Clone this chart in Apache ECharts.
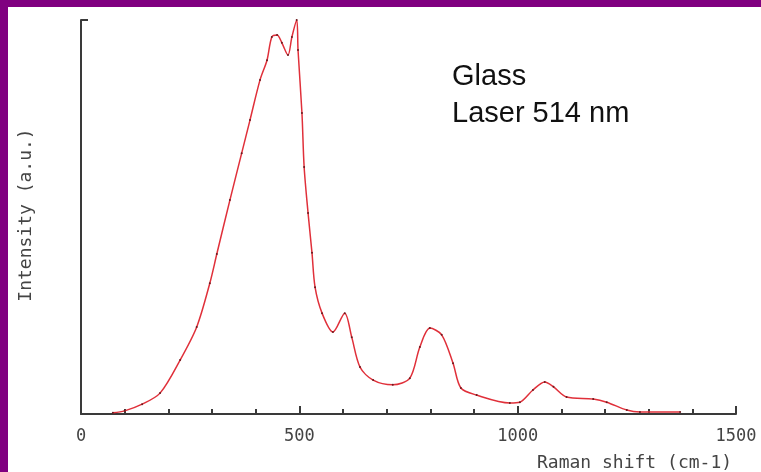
<!DOCTYPE html>
<html>
<head>
<meta charset="utf-8">
<script src="https://cdn.jsdelivr.net/npm/echarts@6/dist/echarts.min.js"></script>
<style>
  html, body { margin: 0; padding: 0; width: 761px; height: 472px; background: #800080; overflow: hidden; }
  #chart { position: absolute; left: 8px; top: 7px; width: 753px; height: 465px; background: #ffffff; }
</style>
</head>
<body>
<div id="chart"></div>
<script>
// Raman shift (cm-1) and normalised intensity (a.u.) of the glass spectrum
const ramanShift = [73, 100, 140, 181, 227, 265, 295, 311, 341, 368, 387, 410, 426, 437, 449, 460, 474, 483, 494, 497, 506, 511, 520, 529, 536, 552, 577, 604, 620, 639, 669, 714, 753, 776, 799, 826, 852, 870, 906, 982, 1005, 1035, 1062, 1082, 1112, 1173, 1204, 1250, 1280, 1372];
const intensity = [0.3, 0.8, 2.5, 5.3, 13.7, 22.1, 33.2, 40.6, 54.3, 66.2, 74.6, 84.8, 89.8, 95.7, 96.2, 94.2, 91.1, 95.7, 100, 92.4, 76.4, 62.7, 51.0, 40.9, 32.2, 25.6, 20.8, 25.6, 19.5, 11.9, 8.6, 7.4, 9.1, 17.0, 21.8, 20.1, 12.9, 6.6, 4.8, 2.8, 3.0, 6.1, 8.1, 6.9, 4.3, 3.8, 3.0, 1.0, 0.5, 0.5];
const xTicks = [0, 500, 1000, 1500];
const annotation = ['Glass', 'Laser 514 nm'];

const chart = echarts.init(document.getElementById('chart'), null, { renderer: 'canvas' });
const monoFont = 'DejaVu Sans Mono';
const axisColor = '#3a3a3a';

chart.setOption({
  animation: false,
  backgroundColor: '#ffffff',
  grid: { left: 73, right: 25, top: 13, bottom: 58, outerBoundsMode: 'none', containLabel: false },
  xAxis: {
    type: 'value',
    min: xTicks[0],
    max: xTicks[xTicks.length - 1],
    interval: xTicks[1] - xTicks[0],
    splitLine: { show: false },
    axisLine: { show: true, lineStyle: { color: axisColor, width: 2 } },
    axisTick: { show: true, inside: true, length: 8, lineStyle: { color: axisColor, width: 2 } },
    minorTick: { show: true, splitNumber: 5, length: 5, lineStyle: { color: axisColor, width: 2 } },
    axisLabel: {
      color: '#444', fontFamily: monoFont, fontSize: 17, margin: 14,
      formatter: v => String(v)
    }
  },
  yAxis: {
    type: 'value',
    min: 0,
    max: 100,
    interval: 100,
    splitLine: { show: false },
    axisLine: { show: true, lineStyle: { color: axisColor, width: 2 } },
    axisTick: { show: true, inside: true, length: 7, lineStyle: { color: axisColor, width: 2 } },
    axisLabel: { show: false }
  },
  series: [{
    type: 'line',
    data: ramanShift.map((x, i) => [x, intensity[i]]),
    smooth: 0.3,
    showSymbol: true,
    symbol: 'circle',
    symbolSize: 2,
    itemStyle: { color: '#6a1a1e', borderWidth: 0 },
    lineStyle: { color: '#e0303a', width: 1.5 }
  }],
  graphic: [
    {
      type: 'text', left: 529, top: 447,
      style: { text: 'Raman shift (cm-1)', fill: '#444', font: '18px "' + monoFont + '"' }
    },
    {
      type: 'text', x: 18, y: 208, rotation: Math.PI / 2,
      style: { text: 'Intensity (a.u.)', fill: '#444', font: '18px "' + monoFont + '"', align: 'center', verticalAlign: 'middle' }
    },
    {
      type: 'text', left: 444, top: 55,
      style: { text: annotation[0], fill: '#111', font: '29px "Liberation Sans"' }
    },
    {
      type: 'text', left: 444, top: 92,
      style: { text: annotation[1], fill: '#111', font: '29px "Liberation Sans"' }
    }
  ]
});
</script>
</body>
</html>
